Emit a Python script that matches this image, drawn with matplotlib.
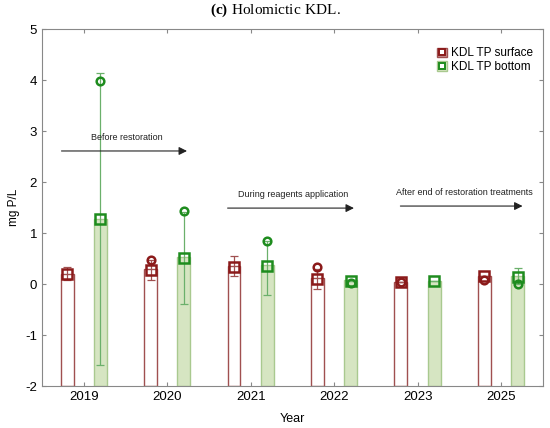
import matplotlib.pyplot as plt
import numpy as np
from matplotlib.patches import Patch
from matplotlib.lines import Line2D

plt.rcParams['font.family'] = ['Liberation Sans', 'DejaVu Sans']
plt.rcParams['axes.unicode_minus'] = False
plt.rcParams['mathtext.fontset'] = 'custom'
plt.rcParams['mathtext.bf'] = 'Liberation Serif:bold'
plt.rcParams['mathtext.rm'] = 'Liberation Serif'

# data
years = ['2019', '2020', '2021', '2022', '2023', '2025']
surf_bar = [0.20, 0.29, 0.35, 0.11, 0.04, 0.16]
surf_sq = [0.19, 0.27, 0.33, 0.10, 0.04, 0.15]
surf_lo = [0.08, 0.08, 0.16, -0.10, 0.04, 0.15]
surf_hi = [0.34, 0.47, 0.55, 0.30, 0.04, 0.15]
surf_circ = [np.nan, 0.48, np.nan, 0.33, 0.04, 0.08]

bot_bar = [1.28, 0.53, 0.37, 0.08, 0.07, 0.15]
bot_sq = [1.27, 0.51, 0.35, 0.06, 0.06, 0.14]
bot_lo = [-1.58, -0.39, -0.22, 0.06, 0.06, 0.00]
bot_hi = [4.13, 1.42, 0.84, 0.06, 0.06, 0.31]
bot_circ = [3.99, 1.44, 0.85, 0.02, np.nan, 0.01]

red = '#8b1a1a'
red_edge = '#a05050'
green = '#1e8c1e'
green_face = '#d6e5c2'
green_edge = '#a9c98f'

x = np.arange(1, len(years) + 1)
off = 0.2
w = 0.155
base = -2

fig = plt.figure(figsize=(5.5, 4.28), dpi=100)
ax = fig.add_axes([0.0764, 0.098, 0.9106, 0.834])

ax.bar(x - off, np.array(surf_bar) - base, bottom=base, width=w,
       facecolor='white', edgecolor=red_edge, linewidth=1.0)
ax.bar(x + off, np.array(bot_bar) - base, bottom=base, width=w,
       facecolor=green_face, edgecolor=green_edge, linewidth=1.0)

s_err = [np.array(surf_sq) - np.array(surf_lo), np.array(surf_hi) - np.array(surf_sq)]
b_err = [np.array(bot_sq) - np.array(bot_lo), np.array(bot_hi) - np.array(bot_sq)]
ax.errorbar(x - off, surf_sq, yerr=s_err, fmt='none', ecolor=red_edge,
            elinewidth=0.9, capsize=3, capthick=0.9)
ax.errorbar(x + off, bot_sq, yerr=b_err, fmt='none', ecolor='#6bb06b',
            elinewidth=0.9, capsize=3, capthick=0.9)

ax.plot(x - off, surf_sq, 's', ms=7, mfc='none', mec=red, mew=1.8)
ax.plot(x + off, bot_sq, 's', ms=7, mfc='none', mec=green, mew=1.8)
ax.plot(x - off, surf_circ, 'o', ms=5.5, mfc='none', mec=red, mew=1.8)
ax.plot(x + off, bot_circ, 'o', ms=5.5, mfc='none', mec=green, mew=1.8)

# period arrows
arrows = [(0.70, 2.27, 2.61, 'Before restoration'),
          (2.69, 4.27, 1.49, 'During reagents application'),
          (4.76, 6.29, 1.53, 'After end of restoration treatments')]
for x0, x1, yy, label in arrows:
    ax.annotate('', xy=(x1, yy), xytext=(x0, yy),
                arrowprops=dict(arrowstyle='-|>', color='#222222', lw=0.8,
                                mutation_scale=12))
    ax.text((x0 + x1) / 2 + 0.03, yy + 0.18, label, fontsize=6.5,
            ha='center', va='bottom', color='#222222')

ax.set_xlim(0.5, 6.5)
ax.set_ylim(-2, 5)
ax.set_xticks(x)
ax.set_xticklabels(years)
ax.set_yticks(range(-2, 6))
ax.tick_params(direction='in', top=True, right=True, labelsize=9.5,
               color='#888888', length=3)
for sp in ax.spines.values():
    sp.set_color('#888888')
    sp.set_linewidth(0.8)

ax.set_ylabel('mg P/L', fontsize=8.5)
ax.set_xlabel('Year', fontsize=9, labelpad=7)

h1 = (Patch(facecolor='#c89090', edgecolor=red_edge),
      Line2D([], [], marker='s', ls='none', ms=4.5, mfc='white', mec=red, mew=1.4))
h2 = (Patch(facecolor=green_face, edgecolor=green_edge),
      Line2D([], [], marker='s', ls='none', ms=4.5, mfc='white', mec=green, mew=1.4))
ax.legend([h1, h2], ['KDL TP surface', 'KDL TP bottom'], loc='upper right',
          bbox_to_anchor=(1.0, 0.975), frameon=False, fontsize=8.5,
          handlelength=0.8, handleheight=0.9, handletextpad=0.4,
          labelspacing=0.15, borderaxespad=0.4)

fig.text(0.5, 0.975, r'$\mathbf{(c)}$ $\mathrm{Holomictic\ KDL.}$', ha='center',
         va='center', fontsize=11)

fig.savefig('out.png', dpi=100)
